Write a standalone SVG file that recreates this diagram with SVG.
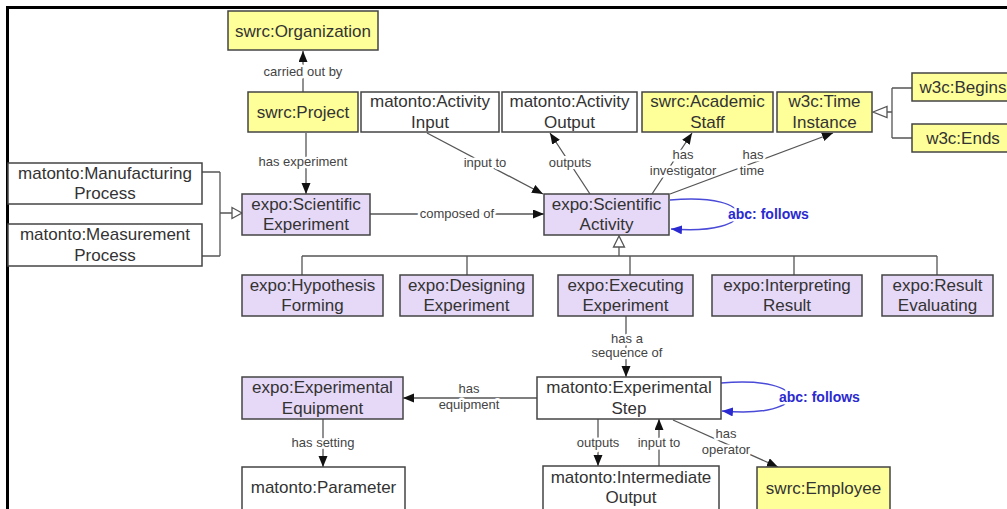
<svg xmlns="http://www.w3.org/2000/svg" width="1007" height="509" viewBox="0 0 1007 509">
<style>
.n rect{stroke:#444;stroke-width:1.5}
.y rect{fill:#ffff99}
.p rect{fill:#e6d8f7}
.w rect{fill:#fff}
.n text{font-family:"Liberation Sans",Arial,sans-serif;font-size:17px;fill:#333;text-anchor:middle}
.e{stroke:#555;stroke-width:1.3;fill:none}
.lb{font-family:"Liberation Sans",Arial,sans-serif;font-size:13px;fill:#444;text-anchor:middle;stroke:#fff;stroke-width:5;paint-order:stroke;stroke-linejoin:round}
.bl{font-family:"Liberation Sans",Arial,sans-serif;font-size:14px;font-weight:bold;fill:#2a2ad0;stroke:#fff;stroke-width:5;paint-order:stroke}
.loop{stroke:#4a4ad8;stroke-width:1.5;fill:none}
.gen{fill:#fff;stroke:#555;stroke-width:1.3}
</style>
<defs>
<marker id="a" markerUnits="userSpaceOnUse" markerWidth="12" markerHeight="10" refX="11" refY="4.5" orient="auto"><path d="M0,0 L11,4.5 L0,9 z" fill="#111"/></marker>
<marker id="ab" markerUnits="userSpaceOnUse" markerWidth="12" markerHeight="10" refX="11" refY="4.5" orient="auto"><path d="M0,0 L11,4.5 L0,9 z" fill="#2a2ad0"/></marker>
</defs>
<rect width="1007" height="509" fill="#fff"/>
<path d="M7.5,509 V7.5 H1007" stroke="#000" stroke-width="3" fill="none"/>

<g id="connectors">
<path class="e" d="M303,92 V51" marker-end="url(#a)"/>
<text class="lb" x="303" y="76">carried out by</text>
<path class="e" d="M306,133 V194" marker-end="url(#a)"/>
<text class="lb" x="303" y="166">has experiment</text>
<path class="e" d="M370,214 H544" marker-end="url(#a)"/>
<text class="lb" x="457" y="218">composed of</text>
<path class="e" d="M427,133 L543,194" marker-end="url(#a)"/>
<text class="lb" x="485" y="167">input to</text>
<path class="e" d="M590,194 L550,133" marker-end="url(#a)"/>
<text class="lb" x="570" y="167">outputs</text>
<path class="e" d="M652,194 L692,133" marker-end="url(#a)"/>
<text class="lb" x="683" y="159">has</text>
<text class="lb" x="683" y="175">investigator</text>
<path class="e" d="M670,194 L833,133" marker-end="url(#a)"/>
<text class="lb" x="753" y="159">has</text>
<text class="lb" x="752" y="175">time</text>
<path class="e" d="M887,112 H892 M892,88 V138 M892,88 H912 M892,138 H912"/>
<path class="gen" d="M873,112 L887,106.5 L887,117.5 z"/>
<path class="e" d="M202,172 H220 M202,256 H220 M220,172 V256 M220,213 H232"/>
<path class="gen" d="M242,213 L232,207.5 L232,218.5 z"/>
<path class="gen" d="M619,236 L613.5,247 L624.5,247 z"/>
<path class="e" d="M619,247 V256 M302,256 H937 M302,256 V275 M467,256 V275 M630,256 V275 M794,256 V275 M937,256 V275"/>
<path class="e" d="M626,316 V377" marker-end="url(#a)"/>
<text class="lb" x="627" y="343">has a</text>
<text class="lb" x="627" y="357">sequence of</text>
<path class="e" d="M537,398 H403" marker-end="url(#a)"/>
<text class="lb" x="469" y="393">has</text>
<text class="lb" x="469" y="409">equipment</text>
<path class="e" d="M323,419 V467" marker-end="url(#a)"/>
<text class="lb" x="323" y="447">has setting</text>
<path class="e" d="M598,419 V466" marker-end="url(#a)"/>
<text class="lb" x="598" y="447">outputs</text>
<path class="e" d="M659,466 V419" marker-end="url(#a)"/>
<text class="lb" x="659" y="447">input to</text>
<path class="e" d="M673,420 L778,467" marker-end="url(#a)"/>
<text class="lb" x="726" y="438">has</text>
<text class="lb" x="726" y="454">operator</text>
<path class="loop" d="M670,200 C760,192 760,236 671,229" marker-end="url(#ab)"/>
<text class="bl" x="728" y="219">abc: follows</text>
<path class="loop" d="M721,383 C812,375 812,419 722,411" marker-end="url(#ab)"/>
<text class="bl" x="779" y="402">abc: follows</text>
</g>

<g id="org" class="n y"><rect x="228" y="11" width="150" height="39"/><text x="303" y="37">swrc:Organization</text></g>
<g id="project" class="n y"><rect x="248" y="92" width="110" height="40"/><text x="303" y="118">swrc:Project</text></g>
<g id="actInput" class="n w"><rect x="361" y="92" width="138" height="40"/><text x="430" y="107">matonto:Activity</text><text x="430" y="128">Input</text></g>
<g id="actOutput" class="n w"><rect x="502" y="92" width="135" height="40"/><text x="569.5" y="107">matonto:Activity</text><text x="569.5" y="128">Output</text></g>
<g id="acadStaff" class="n y"><rect x="642" y="92" width="131" height="40"/><text x="707.5" y="107">swrc:Academic</text><text x="707.5" y="128">Staff</text></g>
<g id="timeInst" class="n y"><rect x="777" y="92" width="95" height="40"/><text x="824.5" y="107">w3c:Time</text><text x="824.5" y="128">Instance</text></g>
<g id="begins" class="n y"><rect x="912" y="73" width="102" height="28"/><text x="963" y="93">w3c:Begins</text></g>
<g id="ends" class="n y"><rect x="912" y="124" width="102" height="28"/><text x="963" y="144">w3c:Ends</text></g>
<g id="manuf" class="n w"><rect x="8" y="163" width="194" height="41"/><text x="105" y="179">matonto:Manufacturing</text><text x="105" y="199">Process</text></g>
<g id="measure" class="n w"><rect x="8" y="224" width="194" height="42"/><text x="105" y="240">matonto:Measurement</text><text x="105" y="261">Process</text></g>
<g id="sciExp" class="n p"><rect x="242" y="194" width="128" height="41"/><text x="306" y="210">expo:Scientific</text><text x="306" y="230">Experiment</text></g>
<g id="sciAct" class="n p"><rect x="544" y="194" width="125" height="41"/><text x="606.5" y="210">expo:Scientific</text><text x="606.5" y="230">Activity</text></g>
<g id="hypo" class="n p"><rect x="242" y="275" width="141" height="41"/><text x="312.5" y="291">expo:Hypothesis</text><text x="312.5" y="311">Forming</text></g>
<g id="design" class="n p"><rect x="400" y="275" width="133" height="41"/><text x="466.5" y="291">expo:Designing</text><text x="466.5" y="311">Experiment</text></g>
<g id="exec" class="n p"><rect x="558" y="275" width="135" height="41"/><text x="625.5" y="291">expo:Executing</text><text x="625.5" y="311">Experiment</text></g>
<g id="interp" class="n p"><rect x="712" y="275" width="150" height="41"/><text x="787" y="291">expo:Interpreting</text><text x="787" y="311">Result</text></g>
<g id="result" class="n p"><rect x="882" y="275" width="111" height="41"/><text x="937.5" y="291">expo:Result</text><text x="937.5" y="311">Evaluating</text></g>
<g id="step" class="n w"><rect x="537" y="377" width="184" height="42"/><text x="629" y="393">matonto:Experimental</text><text x="629" y="414">Step</text></g>
<g id="equip" class="n p"><rect x="242" y="377" width="161" height="42"/><text x="322.5" y="393">expo:Experimental</text><text x="322.5" y="414">Equipment</text></g>
<g id="param" class="n w"><rect x="242" y="467" width="163" height="46"/><text x="323.5" y="493">matonto:Parameter</text></g>
<g id="interm" class="n w"><rect x="543" y="466" width="176" height="47"/><text x="631" y="483">matonto:Intermediate</text><text x="631" y="503">Output</text></g>
<g id="employee" class="n y"><rect x="757" y="467" width="133" height="46"/><text x="823.5" y="494">swrc:Employee</text></g>
</svg>
